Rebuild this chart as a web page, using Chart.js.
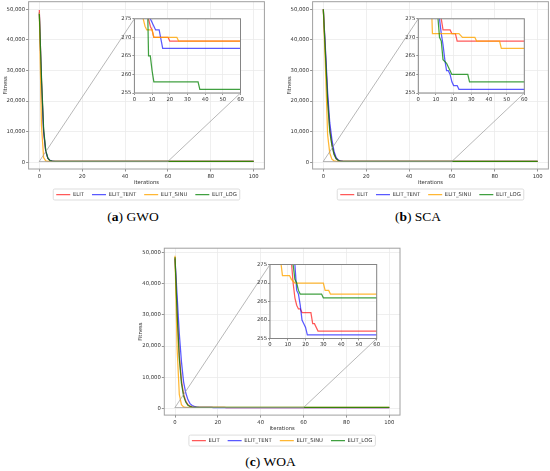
<!DOCTYPE html>
<html>
<head>
<meta charset="utf-8">
<title>Convergence curves</title>
<script src="https://cdn.jsdelivr.net/npm/chart.js@4.4.1/dist/chart.umd.min.js"></script>
<style>
  html, body { margin: 0; padding: 0; background: #fff; }
  #page { position: relative; width: 550px; height: 471px; overflow: hidden; }
  #page canvas { position: absolute; }
  .caption { position: absolute; font-family: "Liberation Serif", serif; font-size: 13.5px; color: #000;
             transform: translate(-50%, -50%); white-space: nowrap; }
</style>
</head>
<body>
<div id="page">
  <canvas id="mainA"></canvas><canvas id="zoomA"></canvas>
  <canvas id="mainB"></canvas><canvas id="zoomB"></canvas>
  <canvas id="mainC"></canvas><canvas id="zoomC"></canvas>
  <div class="caption" id="capA">(<b>a</b>) GWO</div>
  <div class="caption" id="capB">(<b>b</b>) SCA</div>
  <div class="caption" id="capC">(<b>c</b>) WOA</div>
</div>
<script>
// tick labels
const ITER_TICKS = [0, 20, 40, 60, 80, 100];
const FITNESS_TICKS = [0, 10000, 20000, 30000, 40000, 50000];
const ZOOM_ITER_TICKS = [0, 10, 20, 30, 40, 50, 60];
const ZOOM_FITNESS_TICKS = [255, 260, 265, 270, 275];
const SERIES_NAMES = ['ELIT', 'ELIT_TENT', 'ELIT_SINU', 'ELIT_LOG'];

// zoomed window shown in the insets
const ZOOM_ITERS = [0, 60];
const ZOOM_FITNESS = [255, 275];

// convergence curves, [iteration, best fitness] (last value holds to iteration 100)
const gwoElit = [[0,49800],[1,27000],[2,10000],[3,3500],[4,1200],[5,500],[6,350],[7,290],[8,275],[9,273],[10,272],[11,270],[19,270],[20,269],[100,269]];
const gwoTent = [[0,49000],[1,26000],[2,10000],[3,3600],[4,1300],[5,600],[6,400],[7,320],[8,280],[9,275],[10,274],[11,273],[12,272],[14,272],[16,267],[100,267]];
const gwoSinu = [[0,49000],[1,12000],[2,1500],[3,400],[4,285],[5,275],[6,273],[7,272],[10,272],[11,270],[24,270],[25,269],[100,269]];
const gwoLog  = [[0,48500],[1,28000],[2,11000],[3,3800],[4,1300],[5,500],[6,320],[7,290],[8,265],[9,265],[10,261],[11,258],[36,258],[37,256],[100,256]];

const scaElit = [[0,50000],[1,36000],[2,21000],[3,11000],[4,6000],[5,2800],[6,1200],[7,600],[8,380],[9,310],[10,290],[11,284],[12,280],[13,275],[14,272],[18,272],[19,271],[21,271],[22,269],[100,269]];
const scaTent = [[0,50000],[1,37000],[2,23000],[3,13000],[4,7500],[5,3500],[6,1500],[7,700],[8,400],[9,320],[10,295],[11,285],[12,275],[13,271],[14,268],[15,264],[16,261],[17,261],[18,260],[19,258],[20,257],[22,257],[23,256],[100,256]];
const scaSinu = [[0,50000],[1,31000],[2,9000],[3,3000],[4,1000],[5,450],[6,320],[7,285],[8,271],[23,271],[25,270],[32,270],[33,269],[46,269],[47,267],[100,267]];
const scaLog  = [[0,50000],[1,35000],[2,20000],[3,10000],[4,5500],[5,2500],[6,1100],[7,550],[8,350],[9,300],[10,285],[11,276],[12,270],[13,269],[14,264],[16,263],[17,262],[18,261],[19,260],[28,260],[29,258],[100,258]];

const woaElit = [[0,48500],[1,31000],[2,17000],[3,9000],[4,4500],[5,2300],[6,1200],[7,700],[8,450],[9,350],[10,310],[11,300],[12,276],[13,270],[14,266],[15,264],[16,263],[17,263],[18,262],[23,262],[24,259],[25,259],[27,257],[100,257]];
const woaTent = [[0,48000],[1,36000],[2,24000],[3,15000],[4,8500],[5,5000],[6,2800],[7,1500],[8,900],[9,600],[10,450],[11,380],[12,330],[13,300],[14,275],[15,268],[16,267],[17,264],[18,260],[19,259],[20,258],[21,256],[100,256]];
const woaSinu = [[0,49000],[1,19000],[2,4500],[3,1200],[4,450],[5,300],[6,276],[7,272],[11,272],[12,271],[14,270],[30,270],[31,268],[33,268],[34,267],[100,267]];
const woaLog  = [[0,48500],[1,30000],[2,16000],[3,8000],[4,4000],[5,2000],[6,1000],[7,600],[8,400],[9,330],[10,300],[11,290],[12,285],[13,275],[14,271],[15,270],[16,268],[17,267],[29,267],[30,266],[100,266]];

// styling
const COLORS = ['rgba(255,0,0,0.65)', 'rgba(0,0,255,0.65)', 'rgba(255,165,0,0.8)', 'rgba(0,128,0,0.75)'];
const FONT = {family: 'DejaVu Sans', size: 5.3};
const TEXT = '#333';
const GRID = '#ebebeb';
const LINE_W = 1.25;

// layout sizes (px)
const Y_AXIS_W = 28.6, X_AXIS_H = 14.85, LEGEND_PAD = 8;
const LEGEND_H = FONT.size + LEGEND_PAD + 10;
const ZY_AXIS_W = 26.4, ZX_AXIS_H = 10, Z_PAD_T = 6.8, Z_PAD_B = 3, Z_PAD_R = 7.5;

const panels = [
  {main: 'mainA', zoom: 'zoomA', cap: 'capA', series: [gwoElit, gwoTent, gwoSinu, gwoLog], yRange: [-2230, 52490],
   area: {l: 28.6, t: 1.7, r: 264.4, b: 169}, zoomArea: {l: 134.4, t: 18.8, r: 240.5, b: 93}, capPos: [133, 217]},
  {main: 'mainB', zoom: 'zoomB', cap: 'capB', series: [scaElit, scaTent, scaSinu, scaLog], yRange: [-2230, 52490],
   area: {l: 312.6, t: 1.7, r: 548.4, b: 169}, zoomArea: {l: 418.3, t: 18.8, r: 524.3, b: 93}, capPos: [418, 217]},
  {main: 'mainC', zoom: 'zoomC', cap: 'capC', series: [woaElit, woaTent, woaSinu, woaLog], yRange: [-2180, 51440],
   area: {l: 164.3, t: 248.2, r: 400, b: 415.1}, zoomArea: {l: 270, t: 264.5, r: 376.7, b: 338.5}, capPos: [270.5, 461.5]}
];

// put a canvas on integer pixels around a page box, return its origin
function placeCanvas(el, box) {
  const x = Math.floor(box.l), y = Math.floor(box.t);
  el.width = Math.ceil(box.r) - x;
  el.height = Math.ceil(box.b) - y;
  el.style.left = x + 'px';
  el.style.top = y + 'px';
  return {x, y};
}

function datasetsFor(series) {
  return series.map((pts, i) => ({
    label: SERIES_NAMES[i],
    data: pts.map(([x, y]) => ({x, y})),
    borderColor: COLORS[i],
    backgroundColor: COLORS[i],
    borderWidth: LINE_W,
    pointRadius: 0,
    tension: 0,
    fill: false,
    order: series.length - i   // later series drawn on top
  }));
}

const fixWidth = w => s => { s.width = w; s.paddingTop = 0; s.paddingBottom = 0; };
const fixHeight = h => s => { s.height = h; s.paddingLeft = 0; s.paddingRight = 0; };
const useTicks = values => s => { s.ticks = values.map(v => ({value: v})); };

const frame = color => ({
  id: 'frame',
  afterDatasetsDraw(chart) {
    const {left, top, width, height} = chart.chartArea;
    const ctx = chart.ctx;
    ctx.save();
    ctx.strokeStyle = color;
    ctx.lineWidth = 1;
    ctx.strokeRect(left, top, width, height);
    ctx.restore();
  }
});

const whitePlot = {
  id: 'whitePlot',
  beforeDraw(chart) {
    const {left, top, width, height} = chart.chartArea;
    chart.ctx.save();
    chart.ctx.fillStyle = '#fff';
    chart.ctx.fillRect(left, top, width, height);
    chart.ctx.restore();
  }
};

const legendBox = {
  id: 'legendBox',
  afterDraw(chart) {
    const boxes = chart.legend.legendHitBoxes;
    if (!boxes.length) return;
    const l = Math.min(...boxes.map(b => b.left)) - 3;
    const r = Math.max(...boxes.map(b => b.left + b.width)) + 3;
    const cy = boxes[0].top + boxes[0].height / 2;
    const ctx = chart.ctx;
    ctx.save();
    ctx.strokeStyle = '#d4d4d4';
    ctx.lineWidth = 0.8;
    ctx.beginPath();
    ctx.roundRect(l, cy - 5.5, r - l, 11, 1.5);
    ctx.stroke();
    ctx.restore();
  }
};

// zoom rectangle on the main axes plus the two connector lines to the inset
const zoomMarker = (inset, origin) => ({
  id: 'zoomMarker',
  afterDatasetsDraw(chart) {
    const {x, y} = chart.scales;
    const za = inset.chart.chartArea;
    const dx = inset.origin.x - origin.x, dy = inset.origin.y - origin.y;
    const x0 = x.getPixelForValue(ZOOM_ITERS[0]), x1 = x.getPixelForValue(ZOOM_ITERS[1]);
    const yLo = y.getPixelForValue(ZOOM_FITNESS[0]), yHi = y.getPixelForValue(ZOOM_FITNESS[1]);
    const ctx = chart.ctx;
    ctx.save();
    ctx.strokeStyle = '#9a9a9a';
    ctx.lineWidth = 0.7;
    ctx.strokeRect(x0, yHi, x1 - x0, yLo - yHi);
    ctx.beginPath();
    ctx.moveTo(x0, yHi);
    ctx.lineTo(za.left + dx, za.top + dy);
    ctx.moveTo(x1, yLo);
    ctx.lineTo(za.right + dx, za.bottom + dy);
    ctx.stroke();
    ctx.restore();
  }
});

function makeZoom(p) {
  const el = document.getElementById(p.zoom);
  const a = p.zoomArea;
  const origin = placeCanvas(el, {l: a.l - ZY_AXIS_W, t: a.t - Z_PAD_T, r: a.r + Z_PAD_R, b: a.b + ZX_AXIS_H + Z_PAD_B});
  const chart = new Chart(el, {
    type: 'line',
    data: {datasets: datasetsFor(p.series)},
    options: {
      responsive: false,
      animation: false,
      events: [],
      layout: {padding: {
        left: a.l - ZY_AXIS_W - origin.x,
        top: a.t - origin.y,
        right: origin.x + el.width - a.r,
        bottom: origin.y + el.height - a.b - ZX_AXIS_H
      }},
      plugins: {legend: {display: false}, tooltip: {enabled: false}},
      scales: {
        x: {
          type: 'linear', min: ZOOM_ITERS[0], max: ZOOM_ITERS[1],
          afterBuildTicks: useTicks(ZOOM_ITER_TICKS), afterFit: fixHeight(ZX_AXIS_H),
          ticks: {font: FONT, color: TEXT, padding: 1, maxRotation: 0, autoSkip: false},
          grid: {color: GRID, lineWidth: 0.8, tickColor: '#777', tickLength: 2},
          border: {display: false}
        },
        y: {
          min: ZOOM_FITNESS[0], max: ZOOM_FITNESS[1],
          afterBuildTicks: useTicks(ZOOM_FITNESS_TICKS), afterFit: fixWidth(ZY_AXIS_W),
          ticks: {font: FONT, color: TEXT, padding: 1, autoSkip: false},
          grid: {color: GRID, lineWidth: 0.8, tickColor: '#777', tickLength: 2},
          border: {display: false}
        }
      }
    },
    plugins: [whitePlot, frame('#858585')]
  });
  return {chart, origin};
}

function makeMain(p, inset) {
  const el = document.getElementById(p.main);
  const a = p.area;
  const origin = placeCanvas(el, {l: a.l - Y_AXIS_W, t: a.t - 1.5, r: a.r + 1.5, b: a.b + X_AXIS_H + LEGEND_H});
  return new Chart(el, {
    type: 'line',
    data: {datasets: datasetsFor(p.series)},
    options: {
      responsive: false,
      animation: false,
      events: [],
      layout: {padding: {
        left: a.l - Y_AXIS_W - origin.x,
        top: a.t - origin.y,
        right: origin.x + el.width - a.r,
        bottom: origin.y + el.height - a.b - X_AXIS_H - LEGEND_H
      }},
      plugins: {
        tooltip: {enabled: false},
        legend: {
          position: 'bottom',
          fullSize: false,
          labels: {
            font: FONT, color: TEXT, padding: LEGEND_PAD,
            usePointStyle: true, pointStyle: 'line', pointStyleWidth: 14,
            sort: (l1, l2) => l1.datasetIndex - l2.datasetIndex
          }
        }
      },
      scales: {
        x: {
          type: 'linear', min: -5, max: 105,
          afterBuildTicks: useTicks(ITER_TICKS), afterFit: fixHeight(X_AXIS_H),
          ticks: {font: FONT, color: TEXT, padding: 1.6, maxRotation: 0, autoSkip: false},
          grid: {color: GRID, lineWidth: 0.8, tickColor: '#777', tickLength: 2.5},
          border: {display: false},
          title: {display: true, text: 'Iterations', font: FONT, color: TEXT, padding: {top: 0, bottom: -1.5}}
        },
        y: {
          min: p.yRange[0], max: p.yRange[1],
          afterBuildTicks: useTicks(FITNESS_TICKS), afterFit: fixWidth(Y_AXIS_W),
          ticks: {font: FONT, color: TEXT, padding: 1, autoSkip: false, callback: v => v.toLocaleString('en-US')},
          grid: {color: GRID, lineWidth: 0.8, tickColor: '#777', tickLength: 2.5},
          border: {display: false},
          title: {display: true, text: 'Fitness', font: FONT, color: TEXT, padding: {top: 2, bottom: 0}}
        }
      }
    },
    plugins: [frame('#a0a0a0'), zoomMarker(inset, origin), legendBox]
  });
}

panels.forEach(p => {
  const inset = makeZoom(p);
  makeMain(p, inset);
  const cap = document.getElementById(p.cap);
  cap.style.left = p.capPos[0] + 'px';
  cap.style.top = p.capPos[1] + 'px';
});
</script>
</body>
</html>
